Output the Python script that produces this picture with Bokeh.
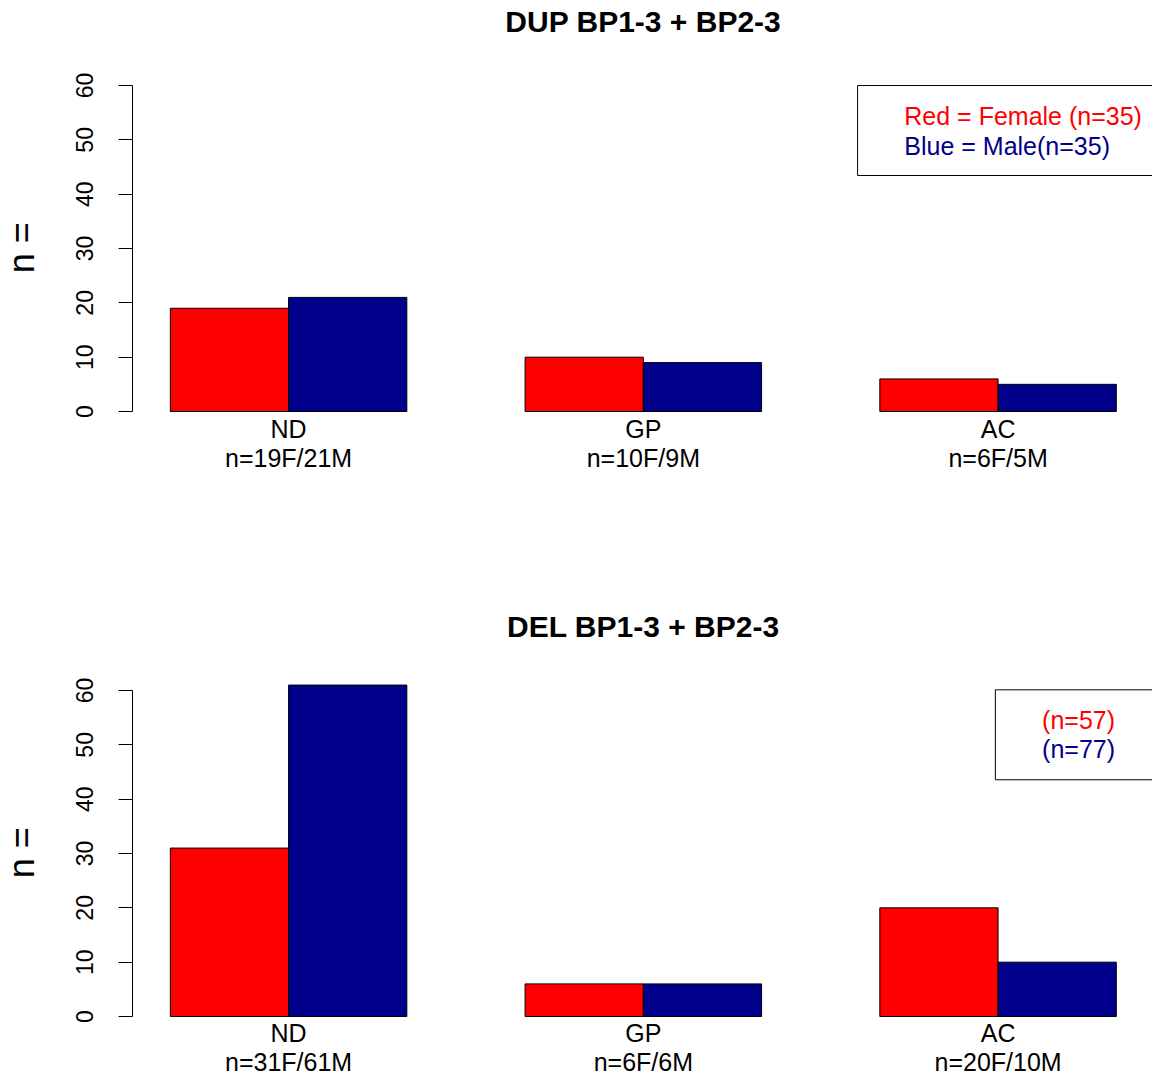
import math
from bokeh.plotting import figure
from bokeh.models import FixedTicker, Range1d
from bokeh.layouts import column
from bokeh.embed import file_html
from bokeh.resources import INLINE
from bokeh.core.properties import value

# ---------------- data ----------------
categories = ["ND", "GP", "AC"]
dup_female = [19, 10, 6]
dup_male = [21, 9, 5]
del_female = [31, 6, 20]
del_male = [61, 6, 10]
dup_counts = ["n=19F/21M", "n=10F/9M", "n=6F/5M"]
del_counts = ["n=31F/61M", "n=6F/6M", "n=20F/10M"]
y_ticks = [0, 10, 20, 30, 40, 50, 60]
dup_legend = ["Red = Female (n=35)", "Blue = Male(n=35)"]
del_legend = ["(n=57)", "(n=77)"]
titles = ["DUP BP1-3 + BP2-3", "DEL BP1-3 + BP2-3"]
y_label = "n ="

RED = "#FF0000"
BLUE = "#00008B"
FONT = "Liberation Sans"


def txt(p, xs, ys, texts, size, color="black", align="left", style="normal",
        angle=0.0):
    p.text(x=xs, y=ys, text=texts, text_align=align, angle=angle,
           text_baseline="alphabetic", text_font=value(FONT),
           text_font_size=size, text_font_style=style, text_color=color)


def make_panel(title, female, male, counts, legend_texts, box, text_left,
               text_ys, height, y_range, label_ys, title_y):
    p = figure(width=1152, height=height, output_backend="svg",
               toolbar_location=None, x_axis_type=None,
               x_range=Range1d(-0.4363, 9.306), y_range=Range1d(*y_range),
               min_border_left=0, min_border_right=0,
               min_border_top=0, min_border_bottom=0)
    p.outline_line_color = None
    p.grid.visible = False
    p.background_fill_color = "white"
    p.border_fill_color = "white"

    n = len(categories)
    red_x = [1.5 + 3 * i for i in range(n)]
    blue_x = [2.5 + 3 * i for i in range(n)]
    mid_x = [2.0 + 3 * i for i in range(n)]

    p.vbar(x=red_x, top=female, bottom=0, width=1.0, fill_color=RED,
           line_color="black", line_width=1)
    p.vbar(x=blue_x, top=male, bottom=0, width=1.0, fill_color=BLUE,
           line_color="black", line_width=1)

    # category labels (two lines under each group)
    txt(p, mid_x, [label_ys[0]] * n, categories, "25px", align="center")
    txt(p, mid_x, [label_ys[1]] * n, counts, "25px", align="center")

    # legend box (runs past the right edge, as in the original)
    p.quad(left=[box[0]], right=[10.0], top=[box[1]], bottom=[box[2]],
           fill_color="white", line_color="black", line_width=1)
    for t, yy, c in zip(legend_texts, text_ys, [RED, BLUE]):
        txt(p, [text_left], [yy], [t], "25px", color=c)

    # title and y label
    txt(p, [5.0], [title_y], [title], "30px", align="center", style="bold")
    txt(p, [-0.256], [30.13], [y_label], "36px", align="center",
        angle=math.pi / 2)

    # y axis, pinned at the left edge of the bar area
    ax = p.yaxis[0]
    ax.fixed_location = 0.68
    ax.ticker = FixedTicker(ticks=y_ticks, minor_ticks=[])
    ax.bounds = (0, 60)
    ax.major_tick_out = 14
    ax.major_tick_in = 0
    ax.minor_tick_line_color = None
    ax.axis_line_color = "black"
    ax.major_tick_line_color = "black"
    ax.major_label_orientation = "vertical"
    ax.major_label_standoff = 25
    ax.major_label_text_font = FONT
    ax.major_label_text_font_size = "23px"
    ax.major_label_text_color = "black"
    return p


p1 = make_panel(titles[0], dup_female, dup_male, dup_counts, dup_legend,
                box=(6.812, 60.0, 43.44), text_left=7.207,
                text_ys=(54.35, 48.94), height=538,
                y_range=(-23.375, 75.65),
                label_ys=(-3.16, -8.5), title_y=71.8)
p2 = make_panel(titles[1], del_female, del_male, del_counts, del_legend,
                box=(7.977, 60.13, 43.57), text_left=8.372,
                text_ys=(54.52, 49.2), height=539,
                y_range=(-11.23, 87.98),
                label_ys=(-2.98, -8.32), title_y=71.73)

layout = column(p1, p2, spacing=0)
open("out.html", "w").write(file_html(layout, INLINE))
